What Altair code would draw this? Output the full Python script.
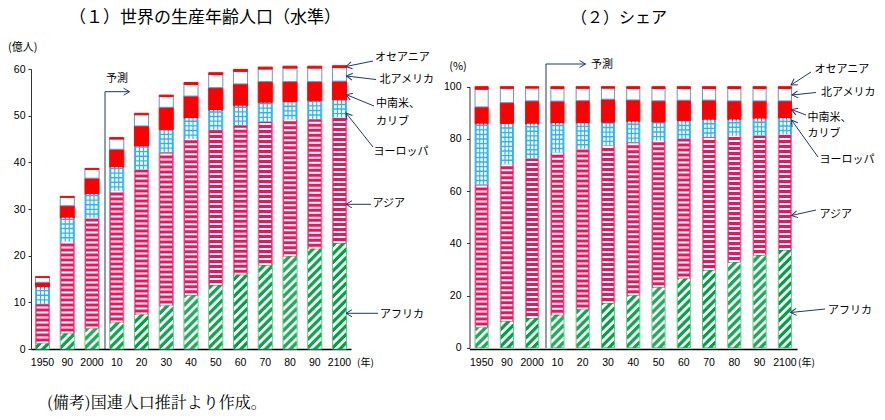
import json
import math
import altair as alt
import pandas as pd

# ---------------- data ----------------
years = ["1950", "1990", "2000", "2010", "2020", "2030", "2040",
         "2050", "2060", "2070", "2080", "2090", "2100"]
year_labels = ["1950", "90", "2000", "10", "20", "30", "40",
               "50", "60", "70", "80", "90", "2100"]
regions = ["アフリカ", "アジア", "ヨーロッパ", "中南米、カリブ", "北アメリカ", "オセアニア"]

# working-age population, 100 million persons (億人)
africa   = [1.2, 3.3, 4.4, 5.7, 7.4, 9.3, 11.5, 13.7, 15.9, 18.0, 19.9, 21.5, 22.7]
asia     = [8.5, 19.7, 23.7, 28.2, 31.1, 32.9, 33.5, 33.3, 32.1, 30.8, 29.3, 27.8, 26.9]
europe   = [3.6, 5.1, 5.1, 5.1, 5.0, 4.8, 4.5, 4.2, 4.1, 4.0, 3.8, 3.9, 3.8]
latam    = [1.0, 2.6, 3.4, 3.8, 4.3, 4.8, 4.7, 4.8, 4.7, 4.5, 4.3, 4.1, 4.0]
namerica = [1.05, 1.8, 1.9, 2.2, 2.4, 2.3, 2.5, 2.8, 2.7, 2.7, 2.9, 2.9, 2.9]
oceania  = [0.15, 0.2, 0.2, 0.3, 0.3, 0.3, 0.4, 0.4, 0.4, 0.4, 0.4, 0.4, 0.4]

series = [africa, asia, europe, latam, namerica, oceania]
rows = []
for i, yr in enumerate(years):
    total = sum(s[i] for s in series)
    cum = 0.0
    for k, (reg, s) in enumerate(zip(regions, series)):
        lo, hi = cum, cum + s[i]
        cum = hi
        rows.append({"year": yr, "region": reg, "order": k,
                     "v_lo": lo, "v_hi": hi,
                     "p_lo": 100 * lo / total, "p_hi": 100 * hi / total})
df = pd.DataFrame(rows)

# ---------------- styling ----------------
JP = "Noto Sans CJK JP"
NUM = "Liberation Sans Narrow, Arial Narrow, Liberation Sans, sans-serif"
NAVY = "#203864"
OX, OY = 31, 69          # page position of the plot origin

fill_scale = alt.Scale(domain=regions,
                       range=["#FFFFFF", "#E8175D", "#30B2F0", "#FF0000", "#FFFFFF", "#FF0000"])
stroke_scale = alt.Scale(domain=regions,
                         range=["#5FCB88", "#FF6699", "#45BBF2", "#FF0000", "#5B9BD5", "#FF0000"])

label_expr = f"{json.dumps(year_labels)}[indexof({json.dumps(years)}, datum.value)]"


def panel(lo, hi, xrange, pin, pout, ydomain, yrange, yvalues, yoffset, ypad):
    step = (xrange[1] - xrange[0]) / (len(years) - pin + 2 * pout)
    bw = step * (1 - pin)
    x_axis = alt.Axis(orient="bottom", labelExpr=label_expr, labelAngle=0, ticks=False,
                      tickSize=0, labelPadding=8, labelFont=NUM, labelFontSize=10.5,
                      labelColor="#000000", domainColor="#000000", domainWidth=1.5,
                      grid=False, title=None)
    y_axis = alt.Axis(orient="left", offset=yoffset, values=yvalues, ticks=True, tickSize=3,
                      tickColor="#333333", labelPadding=ypad, labelFont=NUM,
                      labelFontSize=10.5, labelColor="#000000", domainColor="#333333",
                      domainWidth=1, grid=False, title=None)
    X = alt.X("year:N", scale=alt.Scale(domain=years, range=xrange,
                                        paddingInner=pin, paddingOuter=pout), axis=x_axis)
    Y = alt.Y(f"{lo}:Q", scale=alt.Scale(domain=ydomain, range=yrange, nice=False, zero=True),
              axis=y_axis)
    Y2 = alt.Y2(f"{hi}:Q")
    base = alt.Chart(df)

    layers = [base.mark_bar(strokeWidth=1).encode(
        x=X, y=Y, y2=Y2,
        fill=alt.Fill("region:N", scale=fill_scale, legend=None),
        stroke=alt.Stroke("region:N", scale=stroke_scale, legend=None))]

    # Asia: white horizontal stripes
    layers.append(base.transform_filter(alt.datum.region == "アジア").mark_rule(
        color="#FFFFFF", strokeWidth=bw - 2.2, strokeDash=[2, 3], strokeCap="butt"
    ).encode(x=X, y=Y, y2=Y2))

    # Europe: white squares on blue -> grid
    cell = (bw - 2) / 3
    for off in (-cell, 0, cell):
        layers.append(base.transform_filter(alt.datum.region == "ヨーロッパ").mark_rule(
            color="#FFFFFF", strokeWidth=cell - 1.2, strokeDash=[3.2, 1.4],
            strokeCap="butt", xOffset=off
        ).encode(x=X, y=Y, y2=Y2))

    # Africa: green diagonal hatch built from 1px dashed columns
    n = int(round(bw - 1))
    period = 8.5
    for j in range(n):
        off = -(n - 1) / 2 + j
        layers.append(base.transform_filter(alt.datum.region == "アフリカ").mark_rule(
            color="#00A046", strokeWidth=1.3, strokeDash=[4.3, period - 4.3],
            strokeDashOffset=(period - (j % period)) % period,
            strokeCap="butt", xOffset=off
        ).encode(x=X, y=Y, y2=Y2))
    return alt.layer(*layers)


left = panel("v_lo", "v_hi", [0, 320], 0.43, 0.18, [0, 60], [280, 0],
             [0, 10, 20, 30, 40, 50, 60], 0, 3)
right = panel("p_lo", "p_hi", [438.5, 766], 0.48, 0.22, [0, 100], [278.7, 17.7],
              [0, 20, 40, 60, 80, 100], -438.5, 5.5)

# ---------------- annotations (page pixel positions) ----------------
texts = [
    # text, x, y, size, align, font
    ("（１）世界の生産年齢人口（水準）", 205, 17.5, 17, "center", JP),
    ("（２）シェア", 619, 17.5, 16, "center", JP),
    ("(億人)", 8, 48, 11, "left", JP),
    ("(%)", 458, 67, 11, "center", JP),
    ("(年)", 357, 363, 10, "left", JP),
    ("(年)", 798, 363, 10, "left", JP),
    ("予測", 106, 79, 11, "left", JP),
    ("予測", 591, 64.5, 11, "left", JP),
    ("オセアニア", 375, 58.3, 11, "left", JP),
    ("北アメリカ", 379.5, 80, 11, "left", JP),
    ("中南米、", 376, 104.3, 11, "left", JP),
    ("カリブ", 376, 121.5, 11, "left", JP),
    ("ヨーロッパ", 373.5, 152.3, 11, "left", JP),
    ("アジア", 372.5, 204.3, 11, "left", JP),
    ("アフリカ", 380, 315, 11, "left", JP),
    ("オセアニア", 814.5, 70, 11, "left", JP),
    ("北アメリカ", 821, 93.3, 11, "left", JP),
    ("中南米、", 807.5, 118.3, 11, "left", JP),
    ("カリブ", 807.5, 134, 11, "left", JP),
    ("ヨーロッパ", 819.5, 160, 11, "left", JP),
    ("アジア", 819.5, 215, 11, "left", JP),
    ("アフリカ", 828, 311, 11, "left", JP),
    ("(備考)国連人口推計より作成。", 47, 403, 16, "left",
     "Noto Serif CJK JP, Noto Sans CJK JP"),
]
tdf = pd.DataFrame(texts, columns=["t", "px", "py", "size", "align", "font"])
tdf["x"] = tdf["px"] - OX
tdf["y"] = tdf["py"] - OY

text_layers = []
for (size, align, font), g in tdf.groupby(["size", "align", "font"]):
    text_layers.append(alt.Chart(g).mark_text(
        fontSize=float(size), align=align, baseline="middle", font=font, color="#000000"
    ).encode(x=alt.X("x:Q", scale=None), y=alt.Y("y:Q", scale=None), text="t:N"))

# arrows: tail -> head (page pixels); head gets an open chevron
arrows = [
    (373, 61, 346, 66.5, True), (376, 79.5, 346.5, 76, True), (374, 106, 346, 94.5, True),
    (373, 147, 346, 113, True), (371, 204.3, 346, 204.3, True), (378, 313.3, 346, 313.3, True),
    (811, 72, 791, 85, True), (816, 92.5, 792, 95, True), (806, 115, 791.5, 109.5, True),
    (818, 157, 791.5, 120, True), (816, 210, 791.5, 215.5, True), (825, 309, 790.5, 312.5, True),
    (105, 349, 105, 91.7, False), (105, 91.7, 129.5, 91.7, True),
    (546, 348, 546, 64, False), (546, 64, 585.5, 64, True),
]
adf = pd.DataFrame(arrows, columns=["x1", "y1", "x2", "y2", "head"])
for c in ["x1", "x2"]:
    adf[c] = adf[c] - OX
for c in ["y1", "y2"]:
    adf[c] = adf[c] - OY
adf["ang"] = [
    (math.degrees(math.atan2(r.y2 - r.y1, r.x2 - r.x1)) - 180) % 360 for r in adf.itertuples()
]

arrow_lines = alt.Chart(adf).mark_rule(color=NAVY, strokeWidth=1).encode(
    x=alt.X("x1:Q", scale=None), y=alt.Y("y1:Q", scale=None),
    x2="x2:Q", y2="y2:Q")
arrow_heads = alt.Chart(adf[adf["head"]]).mark_point(
    shape="M 1.7 -1 L 0 0 L 1.7 1", filled=False, size=49, color=NAVY, strokeWidth=1,
    opacity=1
).encode(x=alt.X("x2:Q", scale=None), y=alt.Y("y2:Q", scale=None),
         angle=alt.Angle("ang:Q", scale=None))

annotations = alt.layer(arrow_lines, arrow_heads, *text_layers)

chart = alt.layer(left, right, annotations).resolve_scale(
    x="independent", y="independent"
).properties(
    width=766, height=280,
    autosize=alt.AutoSizeParams(type="none"),
    padding={"left": OX, "top": OY, "right": 885 - OX - 766, "bottom": 420 - OY - 280},
    background="#FFFFFF",
).configure_view(stroke=None)

chart.save("out.html", embed_options={"renderer": "svg", "actions": False})
